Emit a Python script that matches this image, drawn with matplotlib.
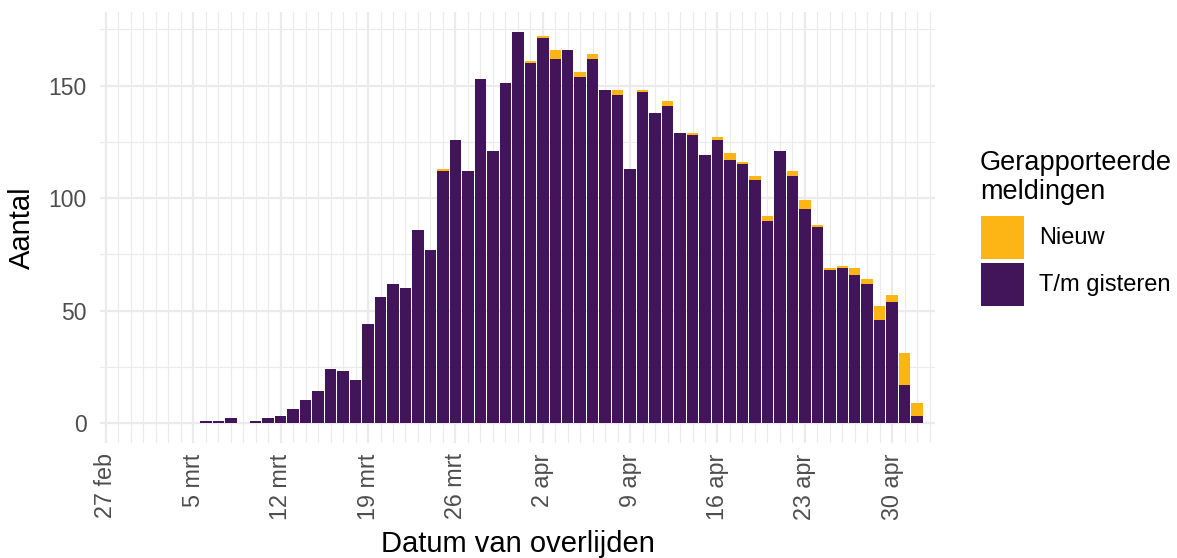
import matplotlib
matplotlib.use('Agg')
import matplotlib.pyplot as plt
import matplotlib.dates as mdates
from matplotlib.patches import Rectangle
from matplotlib.ticker import FixedLocator
import pandas as pd

plt.rcParams['font.family'] = ['Liberation Sans', 'DejaVu Sans']

# ---------------- data ----------------
start_date = '2020-02-27'
end_date = '2020-05-02'
dates = pd.date_range(start_date, end_date, freq='D')

# deaths reported up to yesterday ("T/m gisteren")
gisteren = [
    0, 0, 0, 0, 0, 0, 0, 0,                       # 27 feb - 5 mrt
    1, 1, 2, 0, 1, 2, 3, 6, 10, 14, 24, 23, 19,    # 6 - 18 mrt
    44, 56, 62, 60, 86, 77, 112, 126, 112, 153, 121, 151, 174,  # 19 - 31 mrt
    160, 171, 162, 166, 154, 162, 148, 146, 113, 147,           # 1 - 10 apr
    138, 141, 129, 128, 119, 126, 117, 115, 108, 90,            # 11 - 20 apr
    121, 110, 95, 87, 68, 69, 66, 62, 46, 54,                   # 21 - 30 apr
    17, 3,                                                      # 1 - 2 mei
]
# newly reported ("Nieuw")
nieuw = [
    0, 0, 0, 0, 0, 0, 0, 0,
    0, 0, 0, 0, 0, 0, 0, 0, 0, 0, 0, 0, 0,
    0, 0, 0, 0, 0, 0, 1, 0, 0, 0, 0, 0, 0,
    1, 1, 4, 0, 2, 2, 0, 2, 0, 1,
    0, 2, 0, 1, 0, 1, 3, 1, 2, 2,
    0, 2, 4, 1, 1, 1, 3, 2, 6, 3,
    14, 6,
]

tick_dates = ['2020-02-27', '2020-03-05', '2020-03-12', '2020-03-19', '2020-03-26',
              '2020-04-02', '2020-04-09', '2020-04-16', '2020-04-23', '2020-04-30']
tick_labels = ['27 feb', '5 mrt', '12 mrt', '19 mrt', '26 mrt',
               '2 apr', '9 apr', '16 apr', '23 apr', '30 apr']
y_major = [0, 50, 100, 150]
y_minor = [25, 75, 125, 175]

color_old = '#42155B'
color_new = '#FDB515'
grid_color = '#EBEBEB'
tick_color = '#4D4D4D'

# ---------------- figure ----------------
W, H = 1177, 558
fig = plt.figure(figsize=(W / 100, H / 100), dpi=100)
L, R, B, T = 100, 935, 443, 12
ax = fig.add_axes([L / W, (H - B) / H, (R - L) / W, (B - T) / H])

ax.bar(dates, gisteren, width=0.92, color=color_old, linewidth=0, zorder=2)
ax.bar(dates, nieuw, bottom=gisteren, width=0.92, color=color_new, linewidth=0, zorder=2)

x0 = mdates.date2num(pd.Timestamp(start_date))
ax.set_xlim(x0 - 0.48, x0 + 66.43)
ax.set_ylim(-8.9, 182.7)

major_x = [mdates.date2num(pd.Timestamp(d)) for d in tick_dates]
ax.xaxis.set_major_locator(FixedLocator(major_x))
ax.set_xticklabels(tick_labels, rotation=90, ha='center', va='top')
ax.xaxis.set_minor_locator(mdates.DayLocator())
ax.yaxis.set_major_locator(FixedLocator(y_major))
ax.yaxis.set_minor_locator(FixedLocator(y_minor))

ax.set_axisbelow(True)
ax.grid(which='major', color=grid_color, linewidth=1.6)
ax.grid(which='minor', color=grid_color, linewidth=0.8)
for s in ax.spines.values():
    s.set_visible(False)
ax.tick_params(which='both', length=0)
ax.tick_params(axis='y', labelsize=16.5, labelcolor=tick_color, pad=9.5)
ax.tick_params(axis='x', labelsize=16.8, labelcolor=tick_color, pad=7.5)

# axis titles
fig.text(517.5 / W, (H - 552) / H, 'Datum van overlijden', ha='center', va='baseline',
         fontsize=21, color='black')
fig.text(22 / W, (H - 227.5) / H, 'Aantal', ha='center', va='center', rotation=90,
         fontsize=21, color='black')

# legend (manual)
fig.text(980 / W, (H - 170) / H, 'Gerapporteerde', ha='left', va='baseline', fontsize=19.5)
fig.text(980 / W, (H - 199) / H, 'meldingen', ha='left', va='baseline', fontsize=19.5)
for (ytop, col, lab) in [(216, color_new, 'Nieuw'), (263, color_old, 'T/m gisteren')]:
    fig.patches.append(Rectangle((981 / W, (H - ytop - 43) / H), 43 / W, 43 / H,
                                 transform=fig.transFigure, facecolor=col, edgecolor='none'))
    fig.text(1039 / W, (H - ytop - 21.5) / H, lab, ha='left', va='center', fontsize=17)

fig.savefig('out.png', dpi=100, facecolor='white')
